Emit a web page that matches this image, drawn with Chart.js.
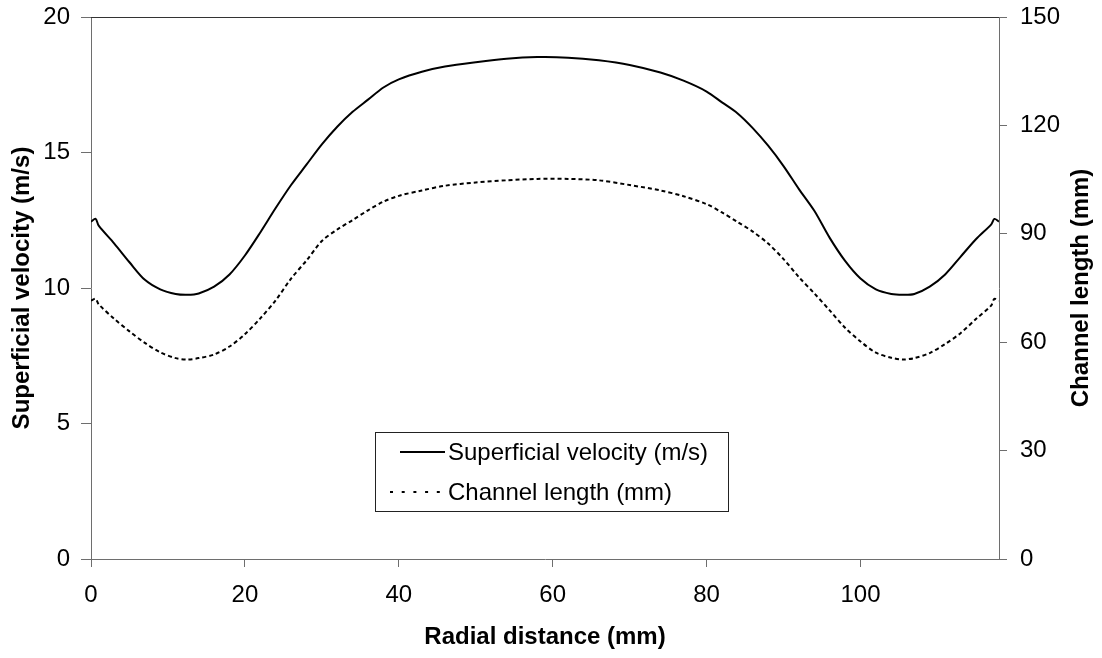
<!DOCTYPE html>
<html>
<head>
<meta charset="utf-8">
<script src="https://cdn.jsdelivr.net/npm/chart.js@4.4.0/dist/chart.umd.min.js"></script>
<style>
  body { margin: 0; background: #fff; }
  #wrap { width: 1102px; height: 658px; position: relative; }
</style>
</head>
<body>
<div id="wrap"><canvas id="profile"></canvas></div>
<script>
// values
var radial = [0, 0.6, 1, 3, 5, 7, 9, 11, 12.5, 14, 16, 18, 20, 22, 24, 26, 28, 30, 32, 34, 36, 38, 40,
    43, 46, 50, 54, 58, 62, 66, 70, 74, 77, 80, 82, 84, 86, 88, 90, 92, 94, 96, 98, 100,
    102, 104, 105.5, 107, 109, 111, 113, 115, 117, 117.4, 118];
var velocity = [12.45, 12.55, 12.3, 11.65, 10.95, 10.3, 9.95, 9.78, 9.75, 9.8, 10.05, 10.5, 11.2, 12.05, 12.95, 13.8, 14.55, 15.3, 15.95, 16.5, 16.95, 17.4, 17.7,
    17.98, 18.17, 18.33, 18.46, 18.52, 18.5, 18.4, 18.23, 17.95, 17.65, 17.25, 16.85, 16.45, 15.9, 15.25, 14.5, 13.65, 12.85, 11.85, 11.0, 10.35,
    9.95, 9.78, 9.75, 9.78, 10.05, 10.5, 11.15, 11.8, 12.35, 12.55, 12.45];
var channel = [71.5, 72, 70.5, 66.5, 63, 59.8, 57.2, 55.6, 55.2, 55.6, 56.6, 58.8, 62.2, 66.6, 71.6, 77.6, 82.6, 88, 91.2, 93.8, 96.5, 98.9, 100.5,
    102, 103.3, 104.2, 104.8, 105.2, 105.2, 104.8, 103.5, 102, 100.4, 98.2, 95.9, 93.3, 90.6, 87.3, 83, 78, 73.5, 68.8, 64, 60.2,
    57.1, 55.7, 55.2, 55.6, 57, 59.5, 62.5, 66.4, 70.2, 72, 71.5];
var seriesNames = ['Superficial velocity (m/s)', 'Channel length (mm)'];
var xTitle = 'Radial distance (mm)';
var yTitle = 'Superficial velocity (m/s)';
var y2Title = 'Channel length (mm)';

var FONT = '"Liberation Sans", Arial, sans-serif';
var axisColor = '#6e6e6e';

function pts(ys) {
    return radial.map(function (x, i) { return { x: x, y: ys[i] }; });
}

// fixed axis sizes so the plot box sits where the original one does
function fitY(w) {
    return function (s) {
        s.width = w;
        s.paddingTop = 0;
        s.paddingBottom = 0;
    };
}

// top frame line, right axis title and the boxed legend
var overlay = {
    id: 'overlay',
    afterDraw: function (chart) {
        var ctx = chart.ctx, a = chart.chartArea;
        ctx.save();
        ctx.strokeStyle = '#333';
        ctx.lineWidth = 1;
        ctx.beginPath();
        ctx.moveTo(a.left, Math.round(a.top) + 0.5);
        ctx.lineTo(a.right, Math.round(a.top) + 0.5);
        ctx.stroke();

        ctx.fillStyle = '#000';
        ctx.font = 'bold 24px ' + FONT;
        ctx.textAlign = 'center';
        ctx.textBaseline = 'middle';
        ctx.translate(1081, (a.top + a.bottom) / 2);
        ctx.rotate(-Math.PI / 2);
        ctx.fillText(y2Title, 0, 0);
        ctx.setTransform(1, 0, 0, 1, 0, 0);

        // legend
        ctx.strokeStyle = '#222';
        ctx.strokeRect(375.5, 432.5, 353, 79);
        var ds = chart.data.datasets;
        var rows = [452, 492];
        ctx.font = '24px ' + FONT;
        ctx.textAlign = 'left';
        ctx.lineWidth = 2;
        for (var i = 0; i < ds.length; i++) {
            ctx.strokeStyle = '#000';
            ctx.beginPath();
            if (ds[i].borderDash && ds[i].borderDash.length) {
                ctx.setLineDash([3, 8.7]);
                ctx.moveTo(390, rows[i]);
            } else {
                ctx.setLineDash([]);
                ctx.moveTo(400, rows[i]);
            }
            ctx.lineTo(445, rows[i]);
            ctx.stroke();
            ctx.setLineDash([]);
            ctx.fillText(ds[i].label, 448, rows[i] + 1);
        }
        ctx.restore();
    }
};

var ctx = document.getElementById('profile');
var profileChart = new Chart(ctx, {
    type: 'line',
    data: {
        datasets: [
            {
                label: seriesNames[0],
                data: pts(velocity),
                yAxisID: 'y',
                borderColor: '#000',
                borderWidth: 2,
                pointRadius: 0,
                tension: 0.3,
                fill: false
            },
            {
                label: seriesNames[1],
                data: pts(channel),
                yAxisID: 'y2',
                borderColor: '#000',
                borderWidth: 2,
                borderDash: [4, 3],
                pointRadius: 0,
                tension: 0.3,
                fill: false
            }
        ]
    },
    options: {
        responsive: true,
        maintainAspectRatio: false,
        animation: false,
        layout: { padding: { top: 17, left: 0, right: 0, bottom: 0 } },
        plugins: {
            legend: { display: false },
            tooltip: { enabled: false }
        },
        scales: {
            x: {
                type: 'linear',
                min: 0,
                max: 118,
                afterFit: function (s) { s.height = 99; s.paddingLeft = 0; s.paddingRight = 0; },
                border: { display: true, color: axisColor, width: 1 },
                grid: { drawOnChartArea: false, drawTicks: true, tickLength: 8, color: axisColor },
                ticks: {
                    stepSize: 20,
                    includeBounds: false,
                    maxRotation: 0,
                    padding: 14,
                    color: '#000',
                    font: { family: FONT, size: 24 }
                },
                title: {
                    display: true,
                    text: xTitle,
                    color: '#000',
                    font: { family: FONT, size: 24, weight: 'bold' },
                    padding: { top: 0, bottom: 6 }
                }
            },
            y: {
                position: 'left',
                min: 0,
                max: 20,
                afterFit: fitY(91),
                border: { display: true, color: axisColor, width: 1 },
                grid: { drawOnChartArea: false, drawTicks: true, tickLength: 10, color: axisColor },
                ticks: {
                    stepSize: 5,
                    padding: 11,
                    color: '#000',
                    font: { family: FONT, size: 24 }
                },
                title: {
                    display: true,
                    text: yTitle,
                    color: '#000',
                    font: { family: FONT, size: 24, weight: 'bold' },
                    padding: { top: 8, bottom: 0 }
                }
            },
            y2: {
                position: 'right',
                min: 0,
                max: 150,
                afterFit: fitY(103),
                border: { display: true, color: axisColor, width: 1 },
                grid: { drawOnChartArea: false, drawTicks: true, tickLength: 8, color: axisColor },
                ticks: {
                    stepSize: 30,
                    padding: 13,
                    color: '#000',
                    font: { family: FONT, size: 24 }
                }
            }
        }
    },
    plugins: [overlay]
});
</script>
</body>
</html>
